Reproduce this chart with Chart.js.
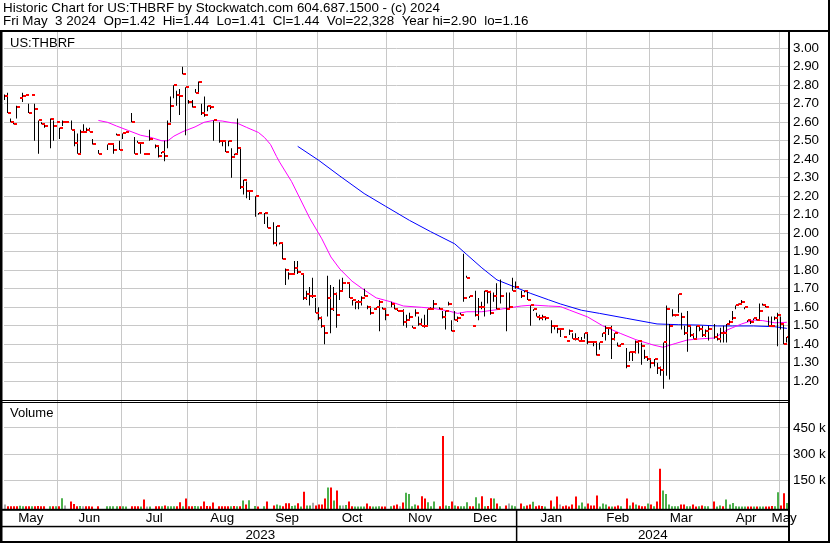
<!DOCTYPE html>
<html><head><meta charset="utf-8">
<script src="https://cdn.jsdelivr.net/npm/chart.js@4.4.1/dist/chart.umd.min.js"></script>
<style>html,body{margin:0;padding:0;background:#fff;}#wrap{width:830px;height:543px;}</style>
</head><body><div id="wrap"><canvas id="c" width="830" height="543"></canvas></div>
<script>
// ---------- text ----------
const symbol = 'US:THBRF';
const titleLines = [
  'Historic Chart for US:THBRF by Stockwatch.com 604.687.1500 - (c) 2024',
  'Fri May  3 2024  Op=1.42  Hi=1.44  Lo=1.41  Cl=1.44  Vol=22,328  Year hi=2.90  lo=1.16'
];
// ---------- calendar (one slot per weekday, slot 0 = May 5 2023) ----------
const monthLabels = ['May','Jun','Jul','Aug','Sep','Oct','Nov','Dec','Jan','Feb','Mar','Apr','May'];
const monthStart  = [19, 40, 62, 85, 105, 128, 150, 171, 194, 215, 236, 258]; // first slot of Jun..May
const yearLabels  = ['2023', '2024'];
const yearStart   = 171;                       // first slot of 2024
const firstSlot = 0.74, lastSlot = 260.7;      // visible slot range
// ---------- axis ticks ----------
const priceTicks = [1.20,1.30,1.40,1.50,1.60,1.70,1.80,1.90,2.00,2.10,2.20,2.30,2.40,2.50,2.60,2.70,2.80,2.90,3.00];
const volTicks = [150, 300, 450];              // thousands
// ---------- daily bars ----------
const high = [
 null,2.75,2.76,2.62,2.60,2.69,2.73,2.76,2.75,2.70,
 2.75,2.70,2.61,2.60,2.59,null,2.62,2.61,2.60,2.57,
 2.61,2.60,null,2.61,2.56,2.54,2.56,2.59,2.57,2.57,
 2.51,null,2.45,null,null,2.48,2.48,2.48,2.54,2.50,
 2.54,2.55,null,2.65,2.52,2.50,2.49,2.43,2.43,2.56,
 null,2.48,2.47,2.44,2.50,2.61,2.74,2.80,2.77,2.78,
 2.90,2.79,2.72,2.72,2.78,2.82,2.70,2.74,2.69,2.69,
 2.61,null,2.60,2.50,2.50,2.50,2.46,2.43,2.62,2.46,
 2.29,2.28,2.23,null,2.20,2.11,null,2.11,2.09,null,
 2.06,2.04,1.95,1.95,1.81,1.79,1.78,1.85,1.85,1.78,
 1.78,1.69,1.71,1.76,1.65,1.60,1.55,1.50,1.77,1.72,
 1.71,1.68,1.75,1.76,1.73,1.73,1.64,1.63,1.64,1.66,
 1.70,1.61,1.60,1.59,1.60,1.64,1.60,1.59,null,1.63,
 1.62,1.59,1.58,1.59,1.56,1.57,1.50,1.59,1.55,1.54,
 1.56,1.59,1.60,1.64,null,1.60,1.58,1.58,1.63,1.53,
 1.58,1.55,1.57,1.89,1.77,1.66,1.50,1.69,1.65,1.63,
 1.69,1.69,1.69,1.68,1.73,1.75,null,1.68,1.68,1.76,
 1.74,null,1.69,1.69,1.69,1.61,1.59,1.57,1.56,1.56,
 1.55,null,1.53,1.50,1.49,1.48,1.44,1.42,1.48,1.46,
 1.46,1.44,1.44,1.46,1.46,1.41,1.41,1.41,1.41,1.46,
 1.50,1.49,1.50,1.46,1.41,1.40,null,1.38,1.36,1.36,
 1.42,1.42,1.41,1.37,1.33,1.32,1.32,1.30,1.28,1.41,
 1.61,1.51,1.59,1.56,1.67,1.57,1.50,1.58,1.50,1.46,
 1.50,1.50,1.50,1.48,1.50,null,1.51,1.46,1.49,1.50,
 1.51,1.53,1.58,1.61,1.62,1.64,1.60,1.53,1.53,1.54,
 1.54,1.62,1.62,1.61,1.55,1.55,1.55,1.57,1.55,1.51,
 1.44];
const low = [
 null,2.72,2.65,2.60,2.59,2.62,2.73,2.71,2.75,2.65,
 2.75,2.50,2.43,2.59,2.57,null,2.46,2.50,2.60,2.51,
 2.58,2.60,null,2.56,2.47,2.43,2.43,2.55,2.55,2.55,
 2.48,null,2.43,null,null,2.45,2.48,2.43,2.53,2.45,
 2.51,2.55,null,2.60,2.43,2.49,2.43,2.43,2.43,2.50,
 null,2.46,2.41,2.43,2.39,2.46,2.60,2.73,2.69,2.64,
 2.86,2.53,2.70,2.68,2.76,2.76,2.64,2.63,2.66,2.67,
 2.50,null,2.49,2.47,2.44,2.47,2.30,2.42,2.43,2.24,
 2.21,2.19,2.18,null,2.09,2.10,null,2.05,2.03,null,
 1.94,1.93,1.94,1.86,1.72,1.75,1.78,1.78,1.78,1.78,
 1.64,1.64,1.61,1.65,1.57,1.53,1.49,1.40,1.55,1.46,
 1.58,1.49,1.64,1.69,1.73,1.65,1.61,1.59,1.59,1.61,
 1.66,1.59,1.56,1.59,1.59,1.47,1.59,1.53,null,1.60,
 1.59,1.58,1.58,1.50,1.49,1.53,1.49,1.55,1.50,1.50,
 1.49,1.50,1.59,1.59,null,1.59,1.54,1.48,1.61,1.47,
 1.53,1.52,1.56,1.63,1.76,1.65,1.50,1.55,1.53,1.59,
 1.55,1.62,1.56,1.63,1.59,1.62,null,1.47,1.59,1.69,
 1.70,null,1.65,1.68,1.64,1.50,1.58,1.55,1.53,1.53,
 1.53,null,1.46,1.48,1.46,1.44,1.44,1.42,1.45,1.43,
 1.42,1.42,1.42,1.43,1.40,1.41,1.39,1.34,1.37,1.44,
 1.42,1.45,1.32,1.42,1.39,1.39,null,1.27,1.31,1.31,
 1.35,1.35,1.29,1.32,1.31,1.27,1.28,1.24,1.23,1.16,
 1.23,1.21,1.55,1.55,1.57,1.48,1.45,1.36,1.44,1.43,
 1.43,1.47,1.44,1.44,1.42,null,1.43,1.42,1.41,1.41,
 1.41,1.51,1.53,1.59,1.61,1.62,1.59,1.52,1.51,1.53,
 1.53,1.53,1.61,1.60,1.50,1.50,1.53,1.39,1.48,1.40,
 1.41];
const close = [
 null,2.74,2.65,2.60,2.59,2.68,2.73,2.74,2.75,2.65,
 2.75,2.67,2.61,2.59,2.58,null,2.62,2.58,2.60,2.57,
 2.60,2.60,null,2.56,2.49,2.43,2.55,2.55,2.56,2.55,
 2.48,null,2.43,null,null,2.48,2.48,2.45,2.53,2.45,
 2.54,2.55,null,2.60,2.43,2.49,2.49,2.43,2.43,2.51,
 null,2.47,2.42,2.44,2.42,2.59,2.69,2.80,2.75,2.74,
 2.86,2.79,2.71,2.68,2.76,2.82,2.65,2.64,2.69,2.68,
 2.61,null,2.50,2.50,2.44,2.50,2.41,2.43,2.46,2.25,
 2.29,2.23,2.23,null,2.20,2.11,null,2.11,2.03,null,
 1.95,2.04,1.95,1.86,1.80,1.78,1.78,1.81,1.79,1.78,
 1.65,1.67,1.66,1.66,1.57,1.54,1.50,1.46,1.65,1.59,
 1.67,1.56,1.69,1.73,1.73,1.65,1.64,1.63,1.63,1.65,
 1.66,1.60,1.57,1.59,1.60,1.63,1.59,1.56,null,1.62,
 1.59,1.58,1.58,1.52,1.53,1.55,1.49,1.57,1.51,1.50,
 1.50,1.59,1.59,1.62,null,1.59,1.55,1.58,1.62,1.47,
 1.53,1.54,1.56,1.65,1.76,1.66,1.50,1.56,1.60,1.60,
 1.69,1.68,1.57,1.66,1.59,1.66,null,1.59,1.60,1.69,
 1.71,null,1.66,1.69,1.64,1.61,1.59,1.55,1.54,1.55,
 1.54,null,1.50,1.50,1.48,1.48,1.44,1.42,1.47,1.43,
 1.43,1.42,1.42,1.46,1.41,1.41,1.41,1.34,1.41,1.46,
 1.49,1.49,1.43,1.46,1.39,1.40,null,1.28,1.36,1.36,
 1.41,1.42,1.39,1.33,1.32,1.30,1.32,1.27,1.26,1.41,
 1.59,1.50,1.56,1.56,1.67,1.55,1.46,1.50,1.45,1.43,
 1.50,1.48,1.45,1.47,1.48,null,1.44,1.43,1.46,1.46,
 1.51,1.52,1.54,1.61,1.62,1.63,1.60,1.53,1.52,1.54,
 1.53,1.58,1.61,1.60,1.50,1.50,1.54,1.56,1.51,1.40,
 1.44];
// volume in thousands of shares
const volume = [
 null,14,4,4,4,4,6,3,3,4,
 3,3,5,4,3,null,3,3,3,3,
 50,8,null,31,16,3,5,3,4,3,
 2,null,3,null,null,3,3,3,3,4,
 3,2,null,3,3,3,2,42,2,2,
 null,3,3,3,8,3,3,3,3,27,
 4,48,3,3,5,3,3,31,5,3,
 25,null,3,3,4,3,3,5,3,3,
 37,14,38,null,5,2,null,3,31,null,
 8,14,8,3,21,21,5,8,21,2,
 87,8,8,23,8,14,14,48,110,110,
 37,93,8,8,11,31,3,2,2,2,
 2,20,4,2,2,3,2,2,null,3,
 8,14,3,25,81,74,3,14,8,61,
 48,27,3,31,null,3,405,8,5,31,
 8,3,3,3,27,3,3,55,20,61,
 3,5,50,48,20,3,null,8,20,8,
 3,null,20,3,8,14,29,3,8,5,
 2,null,37,2,59,14,3,8,2,14,
 59,8,25,2,20,8,8,65,2,20,
 14,2,2,2,8,3,null,48,8,25,
 14,8,3,3,20,14,3,31,217,93,
 74,14,3,3,3,14,14,3,3,14,
 2,3,8,3,3,null,31,2,8,3,
 42,14,22,3,2,2,2,2,2,2,
 2,2,2,2,2,5,3,84,8,78,
 22.3];
// volume bar colour as read: r = down, g = up, n = unchanged, - = no trade
const volDir = (
 '-nrrrrggrr' + 'grrrr-grgr' + 'gn-rrrgnrr' + 'r-r--ggggr' + 'gg-rrrgrng' +
 '-rrgrgggrr' + 'grrrggrrrr' + 'r-rrrrgrgr' + 'grg-gr-gr-' + 'rggrrrggrg' +
 'rggnrrrrgr' + 'grgngrrggg' + 'grrgggrr-g' + 'rrnrggggrr' + 'rggg-rrggr' +
 'grgggrrggr' + 'grrgrg-rng' + 'g-rgrrgrrr' + 'g-rgrnrrrr' + 'rgggrrrrgg' +
 'grgrrg-rgr' + 'grrrgrgrrg' + 'gggggrrggr' + 'rgrgg-rggr' + 'gggggggrrg' +
 'rggrrrggrr' + 'g').split('');
// ---------- moving averages ----------
const maFastDay = [32,35,38,42,46,49,53,55,57,60,64,67,70,73,76,78,81,85,87,89,91,92,96,99,102,106,109,112,116,120,124,129,133,139,143,148,151,154,159,163,167,172,176,181,185,188,194,199,205,210,216,219,223,227,231,236,240,245,249,252,256,260];
const maFastVal = [2.61,2.60,2.58,2.555,2.53,2.52,2.50,2.50,2.525,2.55,2.575,2.60,2.61,2.607,2.598,2.595,2.573,2.545,2.518,2.48,2.415,2.385,2.279,2.18,2.081,1.97,1.872,1.806,1.741,1.694,1.651,1.629,1.607,1.60,1.594,1.58,1.567,1.576,1.576,1.585,1.594,1.607,1.612,1.607,1.604,1.585,1.548,1.50,1.458,1.425,1.395,1.384,1.404,1.423,1.429,1.434,1.476,1.51,1.531,1.528,1.516,1.519];
const maSlowDay = [98,105,112,120,127,135,142,150,154,159,164,170,175,181,185,192,198,207,217,224,231,237,242,249,256,260];
const maSlowVal = [2.47,2.394,2.309,2.215,2.147,2.07,2.009,1.943,1.885,1.813,1.748,1.709,1.676,1.641,1.618,1.584,1.567,1.54,1.51,1.506,1.504,1.499,1.499,1.499,1.495,1.486];

// ---------- styling ----------
const FONT = "'Liberation Sans', Arial, sans-serif";
const GRID = 'rgb(200,200,200)';
const DIR_COLORS = { r: '#ff0000', g: 'rgb(76,176,76)', n: 'rgb(170,170,170)' };
Chart.defaults.font.family = FONT;
Chart.defaults.font.size = 13;
Chart.defaults.color = '#000';

// close tick: small red mark to the right of the bar
const tickImg = document.createElement('canvas');
tickImg.width = 7; tickImg.height = 2;
(function(){ const t = tickImg.getContext('2d'); t.fillStyle = '#ff0000'; t.fillRect(4, 0, 3, 2); })();

const rangeData = [], closeData = [], volData = [], volColors = [];
for (let i = 0; i < high.length; i++) {
  if (high[i] == null) continue;
  rangeData.push({ x: i, y: [low[i], high[i]] });
  closeData.push({ x: i, y: close[i] });
  volData.push({ x: i, y: volume[i] });
  volColors.push(DIR_COLORS[volDir[i]]);
}
const fastData = maFastDay.map((d, i) => ({ x: d, y: maFastVal[i] }));
const slowData = maSlowDay.map((d, i) => ({ x: d, y: maSlowVal[i] }));

const bounds = [firstSlot].concat(monthStart.map(d => d - 0.5), [lastSlot]);
const monthMid = monthLabels.map((_, i) => (bounds[i] + bounds[i + 1]) / 2);
const yearBounds = [firstSlot, yearStart - 0.5, lastSlot];
const yearMid = yearLabels.map((_, i) => (yearBounds[i] + yearBounds[i + 1]) / 2);

// snap thin marks to the pixel grid so they render crisp
const crisp = {
  id: 'crisp',
  beforeDatasetsDraw(chart) {
    chart.ctx.imageSmoothingEnabled = false;
    chart.data.datasets.forEach((ds, i) => {
      const meta = chart.getDatasetMeta(i);
      if (ds.snap === 'line1') meta.data.forEach(el => { el.x = Math.round(el.x - 0.5) + 0.5; });
      if (ds.snap === 'line2') meta.data.forEach(el => { el.x = Math.round(el.x); });
      if (ds.snap === 'tick') meta.data.forEach(el => { el.x = Math.round(el.x - 0.5) + 0.5; el.y = Math.round(el.y); });
    });
  }
};

const frame = {
  id: 'frame',
  afterDraw(chart) {
    const { ctx, chartArea: a, scales } = chart;
    const W = chart.width, H = chart.height;
    const split = scales.y.bottom;
    ctx.save();
    ctx.fillStyle = '#000';
    ctx.fillRect(0, a.top - 2, W, 2);                 // rule under title
    ctx.fillRect(0, a.top - 2, 2.5, H - a.top + 2);   // left border
    ctx.fillRect(a.right - 1, a.top - 2, 2, H - a.top + 2); // axis line
    ctx.fillRect(W - 2, 0, 2, H);                     // right border
    ctx.fillRect(0, split - 1.5, a.right, 1);         // double rule
    ctx.fillRect(0, split + 0.5, a.right, 1);
    ctx.fillRect(0, a.bottom - 0.5, a.right, 2);      // volume base rule
    ctx.fillRect(0, scales.xy.top - 0.5, a.right, 1.5); // month / year rule
    ctx.fillRect(0, H - 2, W, 2);                     // bottom rule
    const xj = scales.x.getPixelForValue(yearStart - 0.5);
    ctx.fillRect(xj - 0.75, a.bottom, 1.5, H - a.bottom);
    ctx.font = '13px ' + FONT;
    ctx.textAlign = 'left'; ctx.textBaseline = 'alphabetic';
    ctx.fillText(symbol, a.left + 6, scales.y.top + 15);
    ctx.fillText('Volume', a.left + 6, scales.y2.top + 16);
    ctx.restore();
  }
};

const xCommon = { type: 'linear', position: 'bottom', min: firstSlot, max: lastSlot, bounds: 'data', offset: false };

new Chart(document.getElementById('c'), {
  type: 'bar',
  data: {
    datasets: [
      { type: 'line', data: closeData, showLine: false, pointStyle: tickImg, pointRadius: 3, pointHoverRadius: 3,
        snap: 'tick', xAxisID: 'x', yAxisID: 'y', order: 0 },
      { type: 'bar', data: rangeData, backgroundColor: '#000', borderWidth: 0, barThickness: 1, inflateAmount: 0,
        grouped: false, snap: 'line1', xAxisID: 'x', yAxisID: 'y', order: 1 },
      { type: 'line', data: fastData, borderColor: '#ff00ff', borderWidth: 1, pointRadius: 0, tension: 0,
        xAxisID: 'x', yAxisID: 'y', order: 2 },
      { type: 'line', data: slowData, borderColor: '#0000ff', borderWidth: 1, pointRadius: 0, tension: 0,
        xAxisID: 'x', yAxisID: 'y', order: 2 },
      { type: 'bar', data: volData, backgroundColor: volColors, borderWidth: 0, barThickness: 2, inflateAmount: 0,
        grouped: false, snap: 'line2', base: -13.7, xAxisID: 'x', yAxisID: 'y2', order: 3 }
    ]
  },
  options: {
    responsive: false, animation: false, devicePixelRatio: 1,
    layout: { padding: { left: 3, right: 0, top: 0, bottom: 0 } },
    plugins: {
      legend: { display: false }, tooltip: { enabled: false },
      title: { display: true, text: titleLines, align: 'start', color: '#000',
        font: { family: FONT, size: 13.4, weight: 'normal', lineHeight: 0.97 },
        padding: { top: 1.5, bottom: 4.5 } }
    },
    scales: {
      x: Object.assign({}, xCommon, {
        weight: 0,
        afterBuildTicks: s => { s.ticks = monthStart.map(d => ({ value: d - 0.5 })); },
        ticks: { display: false },
        grid: { color: GRID, lineWidth: 1, drawTicks: false, offset: false },
        border: { display: false },
        afterFit: s => { s.height = 0; }
      }),
      xm: Object.assign({}, xCommon, {
        weight: 1,
        afterBuildTicks: s => { s.ticks = monthMid.map(v => ({ value: v })); },
        ticks: { autoSkip: false, maxRotation: 0, padding: 1, font: { size: 13.4, lineHeight: 1.2 },
          callback: (v, i) => monthLabels[i] },
        grid: { display: false, drawTicks: false, offset: false }, border: { display: false },
        afterFit: s => { s.height = 17; }
      }),
      xy: Object.assign({}, xCommon, {
        weight: 2,
        afterBuildTicks: s => { s.ticks = yearMid.map(v => ({ value: v })); },
        ticks: { autoSkip: false, maxRotation: 0, padding: 0.5, font: { size: 13.4, lineHeight: 1.2 },
          callback: (v, i) => yearLabels[i] },
        grid: { display: false, drawTicks: false, offset: false }, border: { display: false },
        afterFit: s => { s.height = 16.7; }
      }),
      y: {
        type: 'linear', position: 'right', stack: 'panels', stackWeight: 369.5, weight: 0,
        min: 1.0908, max: 3.0881, bounds: 'data',
        afterBuildTicks: s => { s.ticks = priceTicks.map(v => ({ value: v })); },
        ticks: { autoSkip: false, padding: 4, font: { size: 13.4 }, callback: v => v.toFixed(2) },
        grid: { color: GRID, lineWidth: 1, drawTicks: false }, border: { display: false },
        afterFit: s => { s.width = 41; }
      },
      y2: {
        type: 'linear', position: 'right', stack: 'panels', stackWeight: 107.8, weight: 1,
        min: -13.7, max: 601.1, bounds: 'data',
        afterBuildTicks: s => { s.ticks = volTicks.map(v => ({ value: v })); },
        ticks: { autoSkip: false, padding: 4, font: { size: 13.4 }, callback: v => v + ' k' },
        grid: { color: GRID, lineWidth: 1, drawTicks: false }, border: { display: false },
        afterFit: s => { s.width = 41; }
      }
    }
  },
  plugins: [crisp, frame]
});
</script></body></html>
